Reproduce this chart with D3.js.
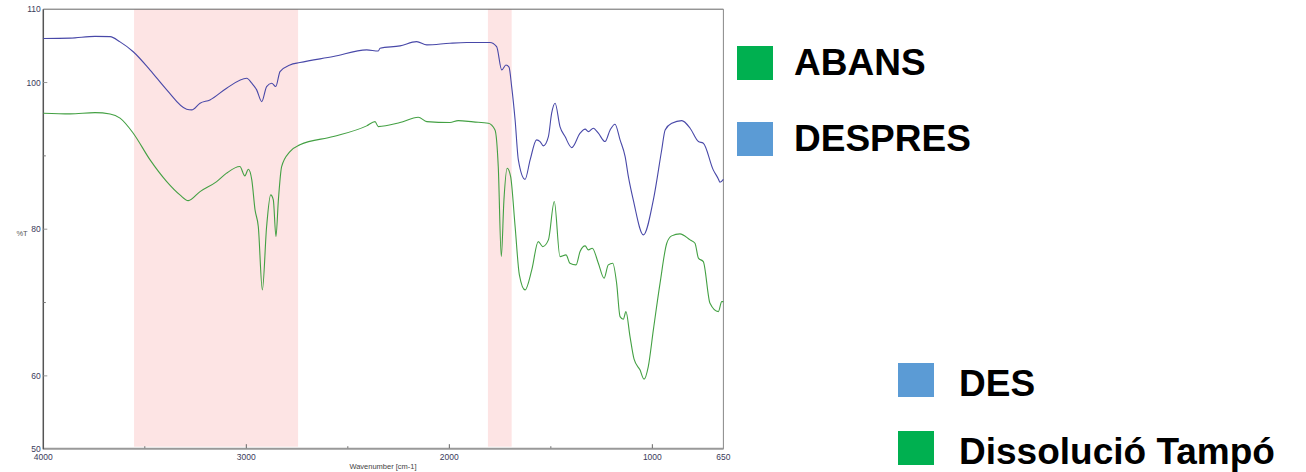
<!DOCTYPE html>
<html>
<head>
<meta charset="utf-8">
<script src="https://cdn.jsdelivr.net/npm/d3@7"></script>
<style>
  body { margin: 0; background: #fff; }
  svg { display: block; font-family: "Liberation Sans", Arial, sans-serif; }
</style>
</head>
<body>
<div id="chart"></div>
<script>
// wavenumber [cm-1], %T
const despresWave = [4000, 3868, 3745, 3671, 3622, 3557, 3474, 3392, 3294, 3269, 3228, 3179, 3097, 2998, 2973, 2949, 2924, 2900, 2875, 2855, 2834, 2785, 2736, 2571, 2407, 2350, 2341, 2243, 2161, 2111, 1997, 1914, 1800, 1767, 1742, 1721, 1706, 1693, 1676, 1660, 1627, 1602, 1570, 1553, 1537, 1512, 1496, 1479, 1455, 1430, 1397, 1356, 1331, 1315, 1291, 1266, 1233, 1208, 1184, 1159, 1134, 1118, 1094, 1044, 995, 954, 937, 904, 855, 814, 773, 749, 700, 675, 667, 650];
const despresT = [106.0, 106.05, 106.3, 106.26, 105.54, 104.2, 101.7, 99.0, 96.36, 96.27, 97.18, 97.63, 99.23, 100.59, 99.91, 99.0, 97.4, 99.45, 99.91, 99.45, 101.49, 102.4, 102.72, 103.54, 104.45, 104.3, 104.68, 105.0, 105.58, 105.13, 105.36, 105.45, 105.45, 104.9, 101.72, 102.4, 102.1, 99.45, 94.9, 89.45, 86.8, 89.45, 92.18, 91.95, 91.36, 92.63, 95.82, 97.18, 94.0, 92.63, 91.13, 93.09, 93.64, 93.31, 93.77, 93.09, 91.95, 93.54, 94.32, 92.18, 89.9, 87.17, 84.0, 79.22, 84.0, 90.8, 93.54, 94.45, 94.8, 93.77, 91.95, 91.73, 88.09, 86.86, 86.4, 86.8];

const abansWave = [4000, 3868, 3745, 3671, 3622, 3557, 3474, 3392, 3327, 3286, 3228, 3146, 3097, 3032, 3007, 2990, 2973, 2957, 2941, 2921, 2900, 2880, 2867, 2854, 2842, 2826, 2785, 2736, 2571, 2407, 2366, 2350, 2243, 2153, 2111, 1997, 1956, 1882, 1808, 1775, 1759, 1744, 1731, 1715, 1698, 1676, 1655, 1627, 1594, 1562, 1540, 1512, 1483, 1455, 1425, 1406, 1376, 1356, 1331, 1315, 1296, 1266, 1238, 1217, 1195, 1176, 1159, 1143, 1130, 1110, 1090, 1061, 1041, 1020, 995, 962, 929, 905, 864, 814, 790, 773, 749, 716, 675, 658, 650];
const abansT = [95.82, 95.72, 95.9, 95.72, 95.14, 93.09, 89.45, 86.49, 84.68, 83.9, 85.13, 86.49, 87.64, 88.54, 87.27, 88.18, 86.72, 82.63, 80.36, 71.72, 80.36, 84.68, 84.0, 79.0, 84.0, 88.54, 90.58, 91.5, 92.63, 94.09, 94.67, 93.99, 94.54, 95.27, 94.67, 94.54, 94.81, 94.63, 94.45, 93.54, 88.54, 76.26, 84.0, 88.32, 87.17, 80.36, 73.77, 71.72, 74.45, 78.31, 77.63, 78.54, 83.77, 76.26, 76.5, 75.36, 75.13, 76.95, 77.72, 77.18, 77.41, 75.36, 73.32, 75.13, 75.36, 72.64, 68.08, 67.73, 68.76, 65.35, 62.27, 60.82, 59.55, 61.27, 66.27, 72.64, 78.09, 79.09, 79.36, 78.54, 78.09, 76.05, 75.58, 69.9, 68.76, 70.13, 70.13];

const bands = [[3553, 2745], [1810, 1693]];
const xMajor = [4000, 3000, 2000, 1000, 650];
const xMinor = [3500, 2500, 1500];
const yMajor = [110, 100, 80, 60, 50];
const yMinor = [90, 70];

const legendTop = ["ABANS", "DESPRES"];
const legendTopColors = ["#00b050", "#5b9bd5"];
const legendBottom = ["DES", "Dissolució Tampó"];
const legendBottomColors = ["#5b9bd5", "#00b050"];

const width = 1306, height = 472;
const svg = d3.select("#chart").append("svg")
    .attr("width", width)
    .attr("height", height);

const x = d3.scaleLinear().domain([4000, 650]).range([43.3, 723.4]);
const y = d3.scaleLinear().domain([50, 110]).range([449.2, 9.2]);

// shaded bands
svg.selectAll("rect.band")
    .data(bands)
    .join("rect")
    .attr("x", d => x(d[0]))
    .attr("width", d => x(d[1]) - x(d[0]))
    .attr("y", y(110))
    .attr("height", y(50) - y(110) - 2.5)
    .attr("fill", "#fde4e4");

// frame
svg.append("line").attr("x1", x(4000)).attr("x2", x(650)).attr("y1", y(110)).attr("y2", y(110))
    .attr("stroke", "#666").attr("stroke-width", 1);
svg.append("line").attr("x1", x(650)).attr("x2", x(650)).attr("y1", y(110)).attr("y2", y(50))
    .attr("stroke", "#888").attr("stroke-width", 1);
svg.append("line").attr("x1", x(4000)).attr("x2", x(650)).attr("y1", y(50) - 0.5).attr("y2", y(50) - 0.5)
    .attr("stroke", "#999").attr("stroke-width", 2);
svg.append("line").attr("x1", x(4000)).attr("x2", x(4000)).attr("y1", y(110)).attr("y2", y(50))
    .attr("stroke", "#555").attr("stroke-width", 1.5);

// y ticks
const yAxis = svg.append("g").attr("transform", `translate(${x(4000)},0)`);
yAxis.selectAll("line.maj").data(yMajor.filter(v => v !== 110 && v !== 50)).join("line")
    .attr("x1", 0).attr("x2", 4).attr("y1", d => y(d)).attr("y2", d => y(d))
    .attr("stroke", "#999").attr("stroke-width", 1);
yAxis.selectAll("line.min").data(yMinor).join("line")
    .attr("x1", 0).attr("x2", 2.5).attr("y1", d => y(d)).attr("y2", d => y(d))
    .attr("stroke", "#777").attr("stroke-width", 1);
yAxis.selectAll("text").data(yMajor).join("text")
    .attr("x", -2.5).attr("y", d => y(d) + 3)
    .attr("text-anchor", "end")
    .attr("font-size", "8.5px")
    .attr("fill", "#3a3a5a")
    .text(d => d);

// x ticks
const xAxis = svg.append("g").attr("transform", `translate(0,${y(50)})`);
xAxis.selectAll("line.maj").data(xMajor.filter(v => v !== 4000 && v !== 650)).join("line")
    .attr("x1", d => x(d)).attr("x2", d => x(d)).attr("y1", -1).attr("y2", -5)
    .attr("stroke", "#666").attr("stroke-width", 1);
xAxis.selectAll("line.min").data(xMinor).join("line")
    .attr("x1", d => x(d)).attr("x2", d => x(d)).attr("y1", -1).attr("y2", -3)
    .attr("stroke", "#777").attr("stroke-width", 1);
xAxis.selectAll("text").data(xMajor).join("text")
    .attr("x", d => x(d)).attr("y", 11)
    .attr("text-anchor", "middle")
    .attr("font-size", "8.5px")
    .attr("fill", "#3a3a5a")
    .text(d => d);

// axis titles
svg.append("text").attr("x", 22).attr("y", 236)
    .attr("text-anchor", "middle").attr("font-size", "7.5px").attr("fill", "#555")
    .text("%T");
svg.append("text").attr("x", 383).attr("y", 469)
    .attr("text-anchor", "middle").attr("font-size", "7.5px").attr("fill", "#444")
    .text("Wavenumber [cm-1]");

// spectra
const line = d3.line()
    .x(d => x(d[0]))
    .y(d => y(d[1]))
    .curve(d3.curveMonotoneX);

svg.append("path")
    .datum(d3.zip(despresWave, despresT))
    .attr("fill", "none")
    .attr("stroke", "#4848a8")
    .attr("stroke-width", 1.1)
    .attr("d", line);

svg.append("path")
    .datum(d3.zip(abansWave, abansT))
    .attr("fill", "none")
    .attr("stroke", "#43a043")
    .attr("stroke-width", 1.1)
    .attr("d", line);

// legends
const legTop = svg.append("g");
legendTop.forEach((name, i) => {
    const g = legTop.append("g").attr("transform", `translate(737,${46 + i * 76})`);
    g.append("rect").attr("width", 36).attr("height", 34).attr("fill", legendTopColors[i]);
    g.append("text").attr("x", 57).attr("y", 28.5)
        .attr("font-size", "37px").attr("font-weight", "bold").attr("fill", "#000")
        .text(name);
});

const legBot = svg.append("g");
legendBottom.forEach((name, i) => {
    const g = legBot.append("g").attr("transform", `translate(898,${363 + i * 68})`);
    g.append("rect").attr("width", 36).attr("height", 34).attr("fill", legendBottomColors[i]);
    g.append("text").attr("x", 61).attr("y", 32.5)
        .attr("font-size", "37px").attr("font-weight", "bold").attr("fill", "#000")
        .text(name);
});
</script>
</body>
</html>
